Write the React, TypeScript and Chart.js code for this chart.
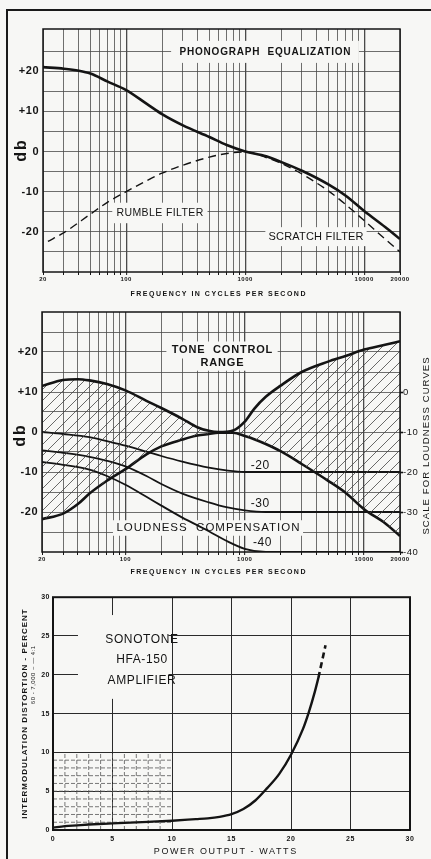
import React, { useEffect, useRef } from "react";
import { Chart, registerables } from "chart.js";

Chart.register(...registerables);

const FONT = '"Liberation Sans", "DejaVu Sans", Arial, sans-serif';
const INK = "#141414";
const PAPER = "#f7f7f5";
const GRID = "#4a4a4a";

// ---------------- data: shared frequency axis ----------------
const freqGridTicks = [20, 30, 40, 50, 60, 70, 80, 90, 100, 200, 300, 400, 500, 600, 700, 800, 900, 1000, 2000, 3000, 4000, 5000, 6000, 7000, 8000, 9000, 10000, 20000];
const freqTickLabels = [20, 100, 1000, 10000, 20000];
const freqDecades = [100, 1000, 10000];
const dbGridTicks = [-25, -20, -15, -10, -5, 0, 5, 10, 15, 20, 25];
const dbTickLabels = [-20, -10, 0, 10, 20];

// ---------------- panel 1: phonograph equalization ----------------
const eqFreqs = [20, 30, 40, 50, 70, 100, 150, 200, 300, 500, 700, 1000, 1500, 2000, 3000, 5000, 7000, 10000, 15000, 20000];
const eqDb = [21.0, 20.6, 20.1, 19.4, 17.4, 15.3, 11.8, 9.3, 6.5, 3.6, 1.6, 0.0, -1.2, -2.6, -4.8, -8.2, -11.0, -14.8, -18.8, -21.8];
const filterFreqs = [22, 30, 50, 70, 100, 150, 200, 300, 500, 700, 1000, 1500, 2000, 3000, 5000, 7000, 10000, 15000, 20000];
const filterDb = [-22.4, -20.2, -15.6, -12.6, -10.0, -7.2, -5.4, -3.4, -1.4, -0.5, -0.1, -1.5, -2.9, -5.6, -9.8, -13.2, -17.2, -21.8, -25.0];

// ---------------- panel 2: tone control / loudness ----------------
const toneFreqs = [20, 30, 40, 50, 70, 100, 150, 200, 300, 400, 500, 600, 800, 1000, 1200, 1500, 2000, 3000, 5000, 7000, 10000, 15000, 20000];
const toneUpperDb = [11.5, 13.0, 13.2, 12.9, 12.0, 10.4, 7.8, 6.0, 3.3, 1.2, 0.3, 0.0, 0.4, 2.6, 5.8, 8.8, 11.6, 15.0, 17.6, 19.0, 20.6, 21.8, 22.7];
const toneLowerDb = [-21.8, -20.4, -18.0, -15.4, -12.2, -9.3, -5.6, -3.6, -1.9, -0.9, -0.5, -0.2, -0.2, -1.0, -1.8, -3.0, -4.8, -8.0, -12.2, -15.2, -19.3, -22.8, -26.0];
const loudFreqs = [20, 30, 50, 70, 100, 150, 200, 300, 500, 700, 1000, 1500, 2000, 5000, 10000, 20000];
const loud20Db = [0, -0.5, -1.3, -2.3, -3.4, -4.9, -6.0, -7.4, -8.9, -9.6, -10, -10, -10, -10, -10, -10];
const loud30Db = [-4.6, -5.2, -6.2, -7.2, -8.6, -11.0, -13.0, -15.4, -17.6, -18.8, -19.6, -20, -20, -20, -20, -20];
const loud40Db = [-7.5, -8.2, -9.4, -11.0, -13.2, -16.2, -18.4, -21.4, -24.8, -27.2, -29.2, -30, -30, -30, -30, -30];
const loudScaleTicks = [0, -10, -20, -30, -40];

// ---------------- panel 3: intermodulation distortion ----------------
const powerWatts = [0, 1, 2, 3, 5, 8, 10, 12, 13, 14, 15, 16, 17, 18, 19, 20, 21, 21.5, 22, 22.3];
const imdPercent = [0.3, 0.5, 0.6, 0.7, 0.85, 1.05, 1.2, 1.4, 1.5, 1.7, 2.05, 2.7, 3.8, 5.4, 7.2, 9.7, 13.0, 15.2, 17.8, 19.6];
const powerWattsDashed = [22.3, 22.9];
const imdPercentDashed = [19.6, 23.8];
const powerTicks = [0, 5, 10, 15, 20, 25, 30];
const imdTicks = [0, 5, 10, 15, 20, 25, 30];
const fineGridValues = [1, 2, 3, 4, 5, 6, 7, 8, 9];
const fineGridMax = 10;

// ---------------- helpers ----------------
const pts = (xs: number[], ys: number[]) => xs.map((x, i) => ({ x, y: ys[i] }));

type Txt = {
  text: string;
  x?: number; y?: number; px?: number; py?: number;
  size: number; weight?: string; spacing?: number; rot?: number;
  mask?: [number, number];
};
type Rect = { x0: number; x1: number; y0: number; y1: number };

function makeDecor(o: { items: Txt[]; masks?: Rect[]; fine?: number[]; fineMax?: number; frame: number }) {
  return {
    id: "decor",
    beforeDraw(chart: any) {
      chart.ctx.letterSpacing = "0.5px";
    },
    beforeDatasetsDraw(chart: any) {
      const ctx = chart.ctx as CanvasRenderingContext2D;
      const sx = chart.scales.x;
      const sy = chart.scales.y;
      ctx.save();
      if (o.fine && o.fineMax !== undefined) {
        ctx.strokeStyle = "#555";
        ctx.lineWidth = 0.8;
        ctx.setLineDash([4, 2]);
        const x0 = sx.getPixelForValue(0), x1 = sx.getPixelForValue(o.fineMax);
        const y0 = sy.getPixelForValue(0), y1 = sy.getPixelForValue(o.fineMax);
        o.fine.forEach((v) => {
          const px = sx.getPixelForValue(v), py = sy.getPixelForValue(v);
          ctx.beginPath(); ctx.moveTo(px, y0); ctx.lineTo(px, y1); ctx.stroke();
          ctx.beginPath(); ctx.moveTo(x0, py); ctx.lineTo(x1, py); ctx.stroke();
        });
        ctx.setLineDash([]);
      }
      (o.masks || []).forEach((m) => {
        const xa = sx.getPixelForValue(m.x0), xb = sx.getPixelForValue(m.x1);
        const ya = sy.getPixelForValue(m.y0), yb = sy.getPixelForValue(m.y1);
        ctx.fillStyle = PAPER;
        ctx.fillRect(Math.min(xa, xb), Math.min(ya, yb), Math.abs(xb - xa), Math.abs(yb - ya));
      });
      o.items.forEach((it) => {
        ctx.save();
        ctx.font = `${it.weight || "normal"} ${it.size}px ${FONT}`;
        (ctx as any).letterSpacing = `${it.spacing || 0}px`;
        const x = it.px !== undefined ? it.px : sx.getPixelForValue(it.x);
        const y = it.py !== undefined ? it.py : sy.getPixelForValue(it.y);
        ctx.translate(x, y);
        if (it.rot) ctx.rotate(it.rot);
        const w = ctx.measureText(it.text).width;
        if (it.mask) {
          ctx.fillStyle = PAPER;
          ctx.fillRect(-w / 2 - it.mask[0], -it.size / 2 - it.mask[1], w + 2 * it.mask[0], it.size + 2 * it.mask[1]);
        }
        ctx.fillStyle = INK;
        ctx.textAlign = "center";
        ctx.textBaseline = "middle";
        ctx.fillText(it.text, (it.spacing || 0) / 2, 0);
        ctx.restore();
      });
      ctx.restore();
    },
    afterDatasetsDraw(chart: any) {
      const ctx = chart.ctx as CanvasRenderingContext2D;
      const a = chart.chartArea;
      ctx.save();
      ctx.strokeStyle = INK;
      ctx.lineWidth = o.frame;
      ctx.strokeRect(a.left, a.top, a.right - a.left, a.bottom - a.top);
      ctx.restore();
    },
  };
}

function makeHatch(): CanvasPattern | string {
  const c = document.createElement("canvas");
  const s = 11;
  c.width = s; c.height = s;
  const g = c.getContext("2d");
  if (!g) return "rgba(0,0,0,0.2)";
  g.strokeStyle = "#444";
  g.lineWidth = 0.8;
  g.beginPath();
  g.moveTo(0, s); g.lineTo(s, 0);
  g.moveTo(-2, 2); g.lineTo(2, -2);
  g.moveTo(s - 2, s + 2); g.lineTo(s + 2, s - 2);
  g.stroke();
  return g.createPattern(c, "repeat") || "rgba(0,0,0,0.2)";
}

function freqAxis(height: number) {
  return {
    type: "logarithmic",
    min: 20,
    max: 20000,
    afterBuildTicks: (s: any) => { s.ticks = freqGridTicks.map((v) => ({ value: v })); },
    afterFit: (s: any) => { s.height = height; },
    grid: {
      color: GRID,
      lineWidth: (c: any) => (c.tick && freqDecades.includes(c.tick.value) ? 1.3 : 0.8),
      drawTicks: true, tickLength: 3, tickColor: INK, tickWidth: 1,
    },
    border: { display: false },
    ticks: {
      autoSkip: false, maxRotation: 0, minRotation: 0, padding: 1, color: INK,
      font: { size: 6, weight: "bold", family: FONT },
      callback: (v: any) => (freqTickLabels.includes(Number(v)) ? String(v) : ""),
    },
  };
}

function dbAxis(width: number, max: number) {
  return {
    min: -30,
    max,
    afterBuildTicks: (s: any) => { s.ticks = dbGridTicks.map((v) => ({ value: v })); },
    afterFit: (s: any) => { s.width = width; },
    grid: { color: GRID, lineWidth: 0.8, drawTicks: false },
    border: { display: false },
    ticks: {
      padding: 4, color: INK,
      font: { size: 11, weight: "bold", family: FONT },
      callback: (v: any) => (dbTickLabels.includes(Number(v)) ? (v > 0 ? "+" + v : String(v)) : ""),
    },
  };
}

const baseOpts = {
  responsive: false,
  animation: false,
  devicePixelRatio: 1,
  events: [],
};

const lineDs = (data: any, width: number, dash: number[] = [], extra: any = {}) => ({
  data, borderColor: INK, borderWidth: width, borderDash: dash, pointRadius: 0,
  cubicInterpolationMode: "monotone", fill: false, yAxisID: "y", ...extra,
});

function buildTop(): any {
  return {
    type: "line",
    data: {
      datasets: [
        lineDs(pts(eqFreqs, eqDb), 2.6),
        lineDs(pts(filterFreqs, filterDb), 1.4, [8, 5]),
      ],
    },
    options: {
      ...baseOpts,
      layout: { padding: { left: 0, right: 31, top: 29, bottom: 0 } },
      scales: { x: freqAxis(28), y: dbAxis(43, 30.5) },
      plugins: { legend: { display: false }, tooltip: { enabled: false } },
    },
    plugins: [
      makeDecor({
        frame: 1.5,
        items: [
          { text: "PHONOGRAPH  EQUALIZATION", x: 1468, y: 24.8, size: 10, weight: "bold", spacing: 0.8, mask: [8, 6] },
          { text: "RUMBLE FILTER", x: 192, y: -15.3, size: 10.5, spacing: 0.4, mask: [4, 5] },
          { text: "SCRATCH FILTER", x: 3937, y: -21.2, size: 11, spacing: 0.2, mask: [3, 4] },
          { text: "db", px: 22, py: 151, size: 16, weight: "bold", spacing: 2, rot: -Math.PI / 2 },
          { text: "FREQUENCY IN CYCLES PER SECOND", px: 218, py: 294, size: 7, weight: "bold", spacing: 1.5 },
        ],
      }),
    ],
  };
}

function buildMid(): any {
  const hatch = makeHatch();
  return {
    type: "line",
    data: {
      datasets: [
        lineDs(pts(toneFreqs, toneUpperDb), 2.6, [], { fill: "+1", backgroundColor: hatch }),
        lineDs(pts(toneFreqs, toneLowerDb), 2.6),
        lineDs(pts(loudFreqs, loud20Db), 1.8),
        lineDs(pts(loudFreqs, loud30Db), 1.8),
        lineDs(pts(loudFreqs, loud40Db), 1.8),
      ],
    },
    options: {
      ...baseOpts,
      layout: { padding: { left: 0, right: 0, top: 12, bottom: 0 } },
      scales: {
        x: freqAxis(38),
        y: dbAxis(42, 30),
        y2: {
          position: "right",
          min: -40,
          max: 20,
          afterBuildTicks: (s: any) => { s.ticks = loudScaleTicks.map((v) => ({ value: v })); },
          afterFit: (s: any) => { s.width = 31; },
          grid: { drawOnChartArea: false, drawTicks: true, tickLength: 3, tickColor: INK, tickWidth: 1.6 },
          border: { display: false },
          ticks: { padding: 0, color: INK, font: { size: 9.5, family: FONT }, callback: (v: any) => String(v) },
        },
      },
      plugins: { legend: { display: false }, tooltip: { enabled: false } },
    },
    plugins: [
      makeDecor({
        frame: 1.5,
        items: [
          { text: "TONE  CONTROL", x: 645, y: 20.5, size: 11, weight: "bold", spacing: 0.8, mask: [5, 3] },
          { text: "RANGE", x: 645, y: 17.2, size: 11, weight: "bold", spacing: 0.8, mask: [5, 2] },
          { text: "LOUDNESS  COMPENSATION", x: 492, y: -24, size: 11.5, spacing: 1, mask: [3, 2] },
          { text: "-20", x: 1343, y: -8.5, size: 12, spacing: 0.5, mask: [3, 2] },
          { text: "-30", x: 1343, y: -17.8, size: 12, spacing: 0.5, mask: [3, 2] },
          { text: "-40", x: 1400, y: -27.6, size: 12, spacing: 0.5, mask: [3, 2] },
          { text: "db", px: 21, py: 136, size: 16, weight: "bold", spacing: 2, rot: -Math.PI / 2 },
          { text: "FREQUENCY IN CYCLES PER SECOND", px: 218, py: 272, size: 7, weight: "bold", spacing: 1.5 },
          { text: "SCALE FOR LOUDNESS CURVES", px: 426, py: 146, size: 9.5, spacing: 1.1, rot: -Math.PI / 2 },
        ],
      }),
    ],
  };
}

function buildBottom(): any {
  return {
    type: "line",
    data: {
      datasets: [
        lineDs(pts(powerWatts, imdPercent), 2.4),
        lineDs(pts(powerWattsDashed, imdPercentDashed), 2.6, [6, 4], { cubicInterpolationMode: "default", tension: 0 }),
      ],
    },
    options: {
      ...baseOpts,
      layout: { padding: { left: 0, right: 21, top: 4, bottom: 0 } },
      scales: {
        x: {
          type: "linear", min: 0, max: 30,
          afterBuildTicks: (s: any) => { s.ticks = powerTicks.map((v) => ({ value: v })); },
          afterFit: (s: any) => { s.height = 29; },
          grid: { color: "#2a2a2a", lineWidth: 1, drawTicks: false },
          border: { display: false },
          ticks: { padding: 5, color: INK, maxRotation: 0, font: { size: 7, weight: "bold", family: FONT } },
        },
        y: {
          min: 0, max: 30,
          afterBuildTicks: (s: any) => { s.ticks = imdTicks.map((v) => ({ value: v })); },
          afterFit: (s: any) => { s.width = 53; },
          grid: { color: "#2a2a2a", lineWidth: 1, drawTicks: false },
          border: { display: false },
          ticks: { padding: 3, color: INK, font: { size: 7, weight: "bold", family: FONT } },
        },
      },
      plugins: { legend: { display: false }, tooltip: { enabled: false } },
    },
    plugins: [
      makeDecor({
        frame: 2,
        fine: fineGridValues,
        fineMax: fineGridMax,
        masks: [{ x0: 2.1, x1: 9.7, y0: 16.9, y1: 27.7 }],
        items: [
          { text: "SONOTONE", x: 7.45, y: 24.5, size: 12, spacing: 0.6 },
          { text: "HFA-150", x: 7.45, y: 22.0, size: 12, spacing: 0.6 },
          { text: "AMPLIFIER", x: 7.45, y: 19.2, size: 12, spacing: 0.6 },
          { text: "POWER OUTPUT - WATTS", px: 225, py: 262, size: 9, spacing: 1.6 },
          { text: "INTERMODULATION DISTORTION - PERCENT", px: 25, py: 124, size: 8, weight: "bold", spacing: 1, rot: -Math.PI / 2 },
          { text: "60 - 7,000 ~ — 4:1", px: 33, py: 85, size: 6, spacing: 0.5, rot: -Math.PI / 2 },
        ],
      }),
    ],
  };
}

function ChartCanvas({ top, height, build }: { top: number; height: number; build: () => any }) {
  const ref = useRef<HTMLCanvasElement | null>(null);
  useEffect(() => {
    if (!ref.current) return;
    const chart = new Chart(ref.current, build());
    return () => chart.destroy();
  }, []);
  return (
    <canvas
      ref={ref}
      width={431}
      height={height}
      style={{ position: "absolute", left: 0, top, width: 431, height, display: "block" }}
    />
  );
}

export default function App() {
  return (
    <div style={{ position: "absolute", left: 0, top: 0, width: 431, height: 859, background: PAPER, overflow: "hidden" }}>
      <div
        style={{
          position: "absolute", left: 6, top: 9, width: 460, height: 900,
          borderLeft: "2px solid #1a1a1a", borderTop: "2px solid #1a1a1a",
        }}
      />
      <ChartCanvas top={0} height={300} build={buildTop} />
      <ChartCanvas top={300} height={290} build={buildMid} />
      <ChartCanvas top={590} height={269} build={buildBottom} />
    </div>
  );
}
